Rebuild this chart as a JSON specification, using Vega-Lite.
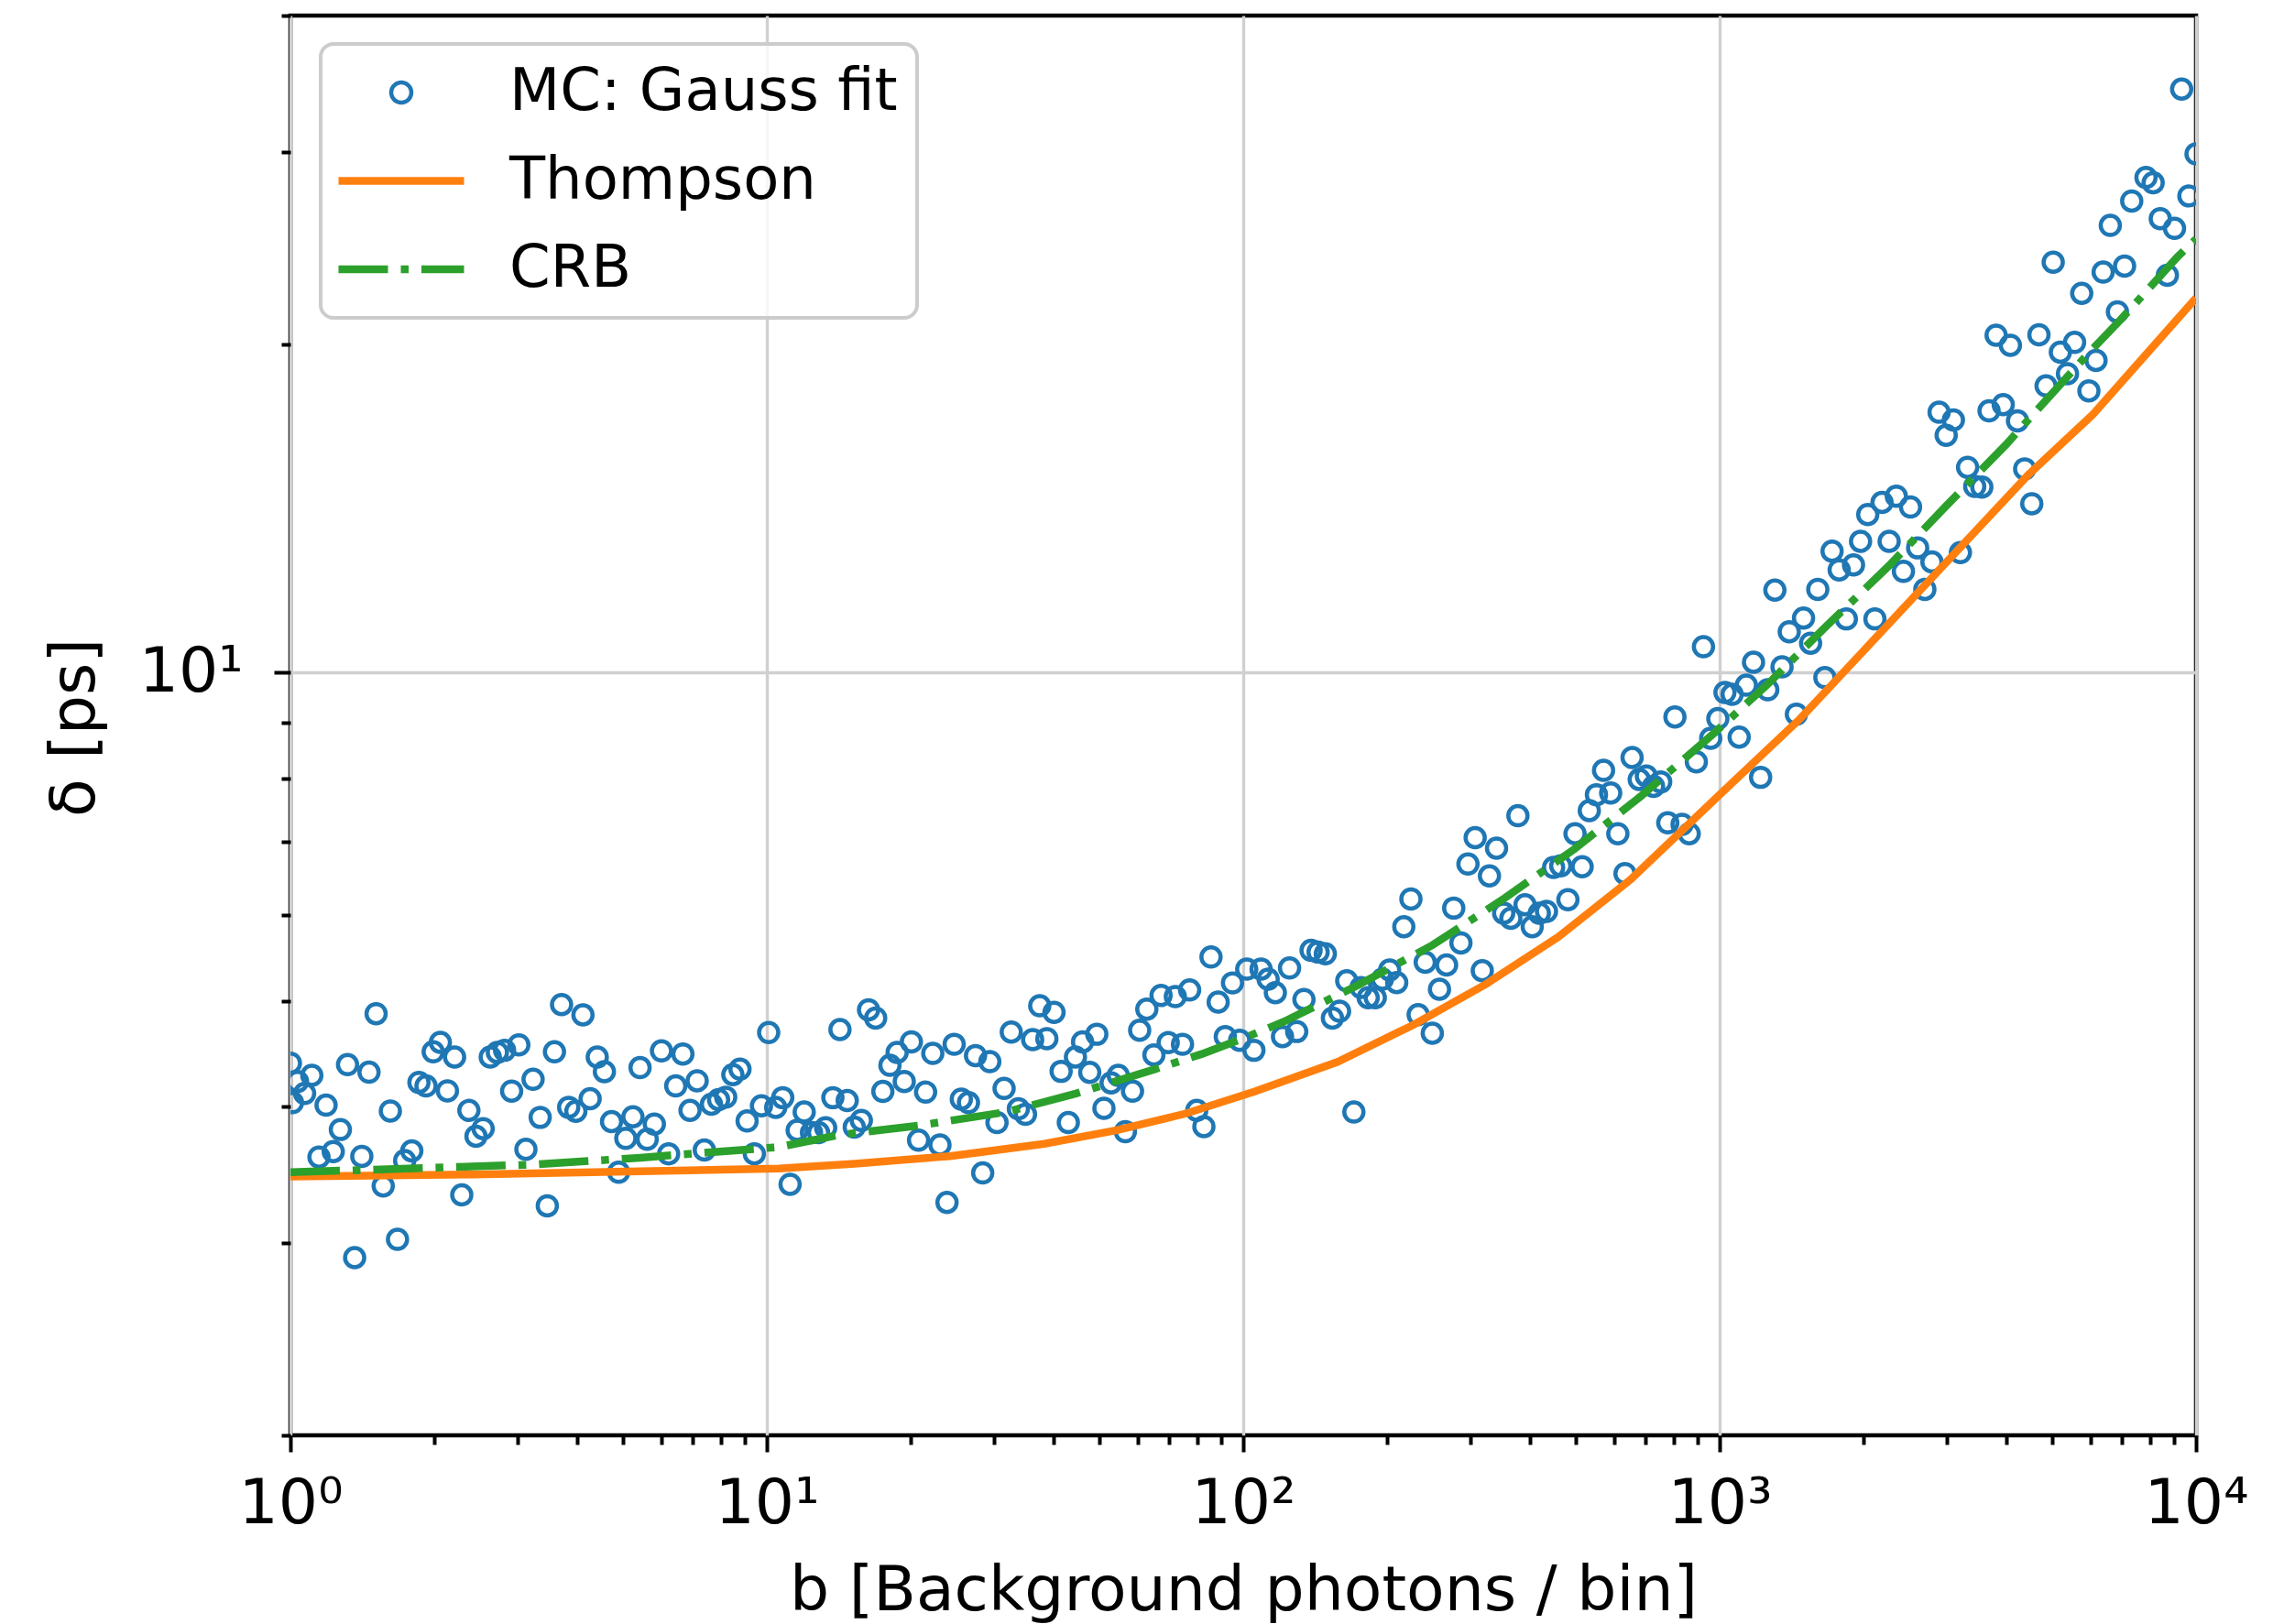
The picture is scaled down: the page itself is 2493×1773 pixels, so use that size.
{
"$schema":"https://vega.github.io/schema/vega-lite/v6.json",
"width":2080,"height":1550,
"autosize":{"type":"none"},
"padding":{"left":317,"top":17,"right":96,"bottom":206},
"background":"white",
"config":{"font":"DejaVu Sans","view":{"stroke":"black","strokeWidth":4.5}},
"datasets":{
"mc":[
{"b":1.0,"d":4.386},{"b":1.01,"d":4.035},{"b":1.035,"d":4.22},{"b":1.071,"d":4.114},{"b":1.109,"d":4.275},{"b":1.148,"d":3.598},{"b":1.188,"d":4.014},{"b":1.23,"d":3.64},{"b":1.273,"d":3.813},{"b":1.318,"d":4.372},{"b":1.364,"d":2.91},{"b":1.412,"d":3.603},{"b":1.462,"d":4.303},{"b":1.513,"d":4.869},{"b":1.566,"d":3.385},{"b":1.621,"d":3.965},{"b":1.678,"d":3.024},{"b":1.737,"d":3.571},{"b":1.798,"d":3.645},{"b":1.861,"d":4.212},{"b":1.926,"d":4.18},{"b":1.994,"d":4.492},{"b":2.064,"d":4.583},{"b":2.136,"d":4.137},{"b":2.211,"d":4.443},{"b":2.289,"d":3.322},{"b":2.369,"d":3.97},{"b":2.452,"d":3.759},{"b":2.538,"d":3.82},{"b":2.627,"d":4.443},{"b":2.719,"d":4.487},{"b":2.815,"d":4.507},{"b":2.913,"d":4.135},{"b":3.016,"d":4.559},{"b":3.121,"d":3.657},{"b":3.231,"d":4.239},{"b":3.344,"d":3.912},{"b":3.461,"d":3.246},{"b":3.583,"d":4.492},{"b":3.708,"d":4.963},{"b":3.838,"d":3.996},{"b":3.973,"d":3.963},{"b":4.112,"d":4.856},{"b":4.257,"d":4.069},{"b":4.406,"d":4.443},{"b":4.561,"d":4.308},{"b":4.721,"d":3.877},{"b":4.886,"d":3.484},{"b":5.058,"d":3.742},{"b":5.235,"d":3.917},{"b":5.419,"d":4.345},{"b":5.609,"d":3.735},{"b":5.806,"d":3.857},{"b":6.01,"d":4.501},{"b":6.221,"d":3.622},{"b":6.439,"d":4.18},{"b":6.665,"d":4.472},{"b":6.899,"d":3.97},{"b":7.141,"d":4.226},{"b":7.392,"d":3.652},{"b":7.651,"d":4.022},{"b":7.92,"d":4.061},{"b":8.198,"d":4.082},{"b":8.485,"d":4.281},{"b":8.783,"d":4.331},{"b":9.091,"d":3.882},{"b":9.414,"d":3.622},{"b":9.744,"d":4.009},{"b":10.09,"d":4.678},
{"b":10.44,"d":3.995},{"b":10.8,"d":4.078},{"b":11.19,"d":3.397},{"b":11.58,"d":3.807},{"b":11.98,"d":3.957},{"b":12.41,"d":3.788},{"b":12.84,"d":3.788},{"b":13.29,"d":3.827},{"b":13.76,"d":4.078},{"b":14.24,"d":4.708},{"b":14.75,"d":4.053},{"b":15.26,"d":3.832},{"b":15.79,"d":3.887},{"b":16.35,"d":4.909},{"b":16.92,"d":4.824},{"b":17.52,"d":4.132},{"b":18.13,"d":4.366},{"b":18.77,"d":4.486},{"b":19.43,"d":4.22},{"b":20.11,"d":4.588},{"b":20.82,"d":3.728},{"b":21.54,"d":4.126},{"b":22.3,"d":4.477},{"b":23.09,"d":3.691},{"b":23.89,"d":3.269},{"b":24.73,"d":4.564},{"b":25.6,"d":4.066},{"b":26.5,"d":4.035},{"b":27.42,"d":4.457},{"b":28.39,"d":3.479},{"b":29.38,"d":4.4},{"b":30.42,"d":3.869},{"b":31.48,"d":4.158},{"b":32.59,"d":4.683},{"b":33.73,"d":3.983},{"b":34.91,"d":3.937},{"b":36.14,"d":4.609},{"b":37.4,"d":4.95},{"b":38.71,"d":4.618},{"b":40.07,"d":4.883},{"b":41.47,"d":4.311},{"b":42.94,"d":3.869},{"b":44.44,"d":4.443},{"b":46.0,"d":4.588},{"b":47.62,"d":4.302},{"b":49.28,"d":4.662},{"b":51.01,"d":3.988},{"b":52.8,"d":4.207},{"b":54.66,"d":4.275},{"b":56.57,"d":3.795},{"b":58.56,"d":4.134},{"b":60.62,"d":4.702},{"b":62.75,"d":4.915},{"b":64.94,"d":4.463},{"b":67.22,"d":5.059},{"b":69.58,"d":4.58},{"b":72.02,"d":5.047},{"b":74.56,"d":4.564},{"b":77.17,"d":5.118},{"b":79.88,"d":3.97},{"b":82.68,"d":3.837},{"b":85.58,"d":5.487},{"b":88.59,"d":4.989},{"b":91.69,"d":4.639},{"b":94.95,"d":5.195},{"b":98.28,"d":4.603},{"b":101.7,"d":5.348},
{"b":105.3,"d":4.507},{"b":109.0,"d":5.35},{"b":112.8,"d":5.236},{"b":116.8,"d":5.089},{"b":120.9,"d":4.638},{"b":125.1,"d":5.361},{"b":129.5,"d":4.689},{"b":134.1,"d":5.017},{"b":138.8,"d":5.565},{"b":143.6,"d":5.545},{"b":148.7,"d":5.524},{"b":153.9,"d":4.824},{"b":159.3,"d":4.893},{"b":164.9,"d":5.218},{"b":170.7,"d":3.956},{"b":176.7,"d":5.145},{"b":182.9,"d":5.035},{"b":189.3,"d":5.035},{"b":195.9,"d":5.236},{"b":202.9,"d":5.339},{"b":210.0,"d":5.199},{"b":217.3,"d":5.849},{"b":224.9,"d":6.202},{"b":232.9,"d":4.858},{"b":241.0,"d":5.427},{"b":249.4,"d":4.672},{"b":258.2,"d":5.126},{"b":267.2,"d":5.396},{"b":276.6,"d":6.084},{"b":286.4,"d":5.653},{"b":296.3,"d":6.676},{"b":306.8,"d":7.058},{"b":317.5,"d":5.331},{"b":328.7,"d":6.511},{"b":340.2,"d":6.904},{"b":352.1,"d":6.019},{"b":364.5,"d":5.955},{"b":377.2,"d":7.393},{"b":390.4,"d":6.127},{"b":404.2,"d":5.849},{"b":418.3,"d":6.019},{"b":433.1,"d":6.041},{"b":448.2,"d":6.628},{"b":464.0,"d":6.652},{"b":480.3,"d":6.193},{"b":497.1,"d":7.118},{"b":514.5,"d":6.638},{"b":532.6,"d":7.473},{"b":551.3,"d":7.728},{"b":570.6,"d":8.135},{"b":590.6,"d":7.756},{"b":611.4,"d":7.118},{"b":632.9,"d":6.544},{"b":655.0,"d":8.359},{"b":678.0,"d":7.98},{"b":701.8,"d":8.038},{"b":726.5,"d":7.866},{"b":752.0,"d":7.94},{"b":778.3,"d":7.283},{"b":805.7,"d":9.107},{"b":834.0,"d":7.258},{"b":863.2,"d":7.118},{"b":893.5,"d":8.283},{"b":924.8,"d":10.56},{"b":957.7,"d":8.707},{"b":991.3,"d":9.075},{"b":1026,"d":9.587},
{"b":1062,"d":9.55},{"b":1099,"d":8.727},{"b":1138,"d":9.737},{"b":1178,"d":10.22},{"b":1219,"d":8.017},{"b":1262,"d":9.643},{"b":1306,"d":11.9},{"b":1352,"d":10.12},{"b":1400,"d":10.9},{"b":1449,"d":9.16},{"b":1500,"d":11.22},{"b":1552,"d":10.64},{"b":1607,"d":11.92},{"b":1663,"d":9.893},{"b":1722,"d":12.92},{"b":1782,"d":12.42},{"b":1845,"d":11.2},{"b":1910,"d":12.55},{"b":1976,"d":13.19},{"b":2046,"d":13.96},{"b":2118,"d":11.2},{"b":2192,"d":14.32},{"b":2269,"d":13.19},{"b":2349,"d":14.51},{"b":2431,"d":12.38},{"b":2516,"d":14.18},{"b":2604,"d":13.01},{"b":2696,"d":11.92},{"b":2790,"d":12.63},{"b":2888,"d":17.32},{"b":2989,"d":16.5},{"b":3095,"d":17.04},{"b":3202,"d":12.88},{"b":3315,"d":15.42},{"b":3431,"d":14.81},{"b":3551,"d":14.79},{"b":3677,"d":17.37},{"b":3805,"d":20.38},{"b":3938,"d":17.6},{"b":4077,"d":19.95},{"b":4219,"d":17.01},{"b":4368,"d":15.37},{"b":4521,"d":14.28},{"b":4680,"d":20.4},{"b":4844,"d":18.31},{"b":5014,"d":23.77},{"b":5190,"d":19.66},{"b":5372,"d":18.79},{"b":5560,"d":20.07},{"b":5755,"d":22.26},{"b":5958,"d":18.12},{"b":6167,"d":19.32},{"b":6383,"d":23.28},{"b":6607,"d":25.69},{"b":6839,"d":21.41},{"b":7079,"d":23.58},{"b":7328,"d":27.05},{"b":7851,"d":28.42},{"b":8127,"d":28.11},{"b":8412,"d":26.06},{"b":8706,"d":23.13},{"b":9012,"d":25.53},{"b":9328,"d":34.25},{"b":9660,"d":27.34},{"b":10000,"d":29.87}
],
"thompson":[
{"b":1,"d":3.452},{"b":2.42,"d":3.468},{"b":10.59,"d":3.511},{"b":15.3,"d":3.548},{"b":24.25,"d":3.605},{"b":38.25,"d":3.7},{"b":54.28,"d":3.807},{"b":76.0,"d":3.945},{"b":105.9,"d":4.132},{"b":157.8,"d":4.398},{"b":227.9,"d":4.756},{"b":323.3,"d":5.182},{"b":458.7,"d":5.725},{"b":650.9,"d":6.465},{"b":1000,"d":7.729},{"b":1476.5,"d":9.075},{"b":2424,"d":11.44},{"b":4446,"d":15.18},{"b":6091,"d":17.26},{"b":10000,"d":22.04}
],
"crb":[
{"b":1,"d":3.484},{"b":3.283,"d":3.542},{"b":5.428,"d":3.593},{"b":10.59,"d":3.674},{"b":14.19,"d":3.77},{"b":20.76,"d":3.844},{"b":31.85,"d":3.957},{"b":44.55,"d":4.114},{"b":65.2,"d":4.33},{"b":81.9,"d":4.472},{"b":101.3,"d":4.632},{"b":121.9,"d":4.789},{"b":173.1,"d":5.164},{"b":249.5,"d":5.626},{"b":354.4,"d":6.216},{"b":495.8,"d":6.892},{"b":682.8,"d":7.701},{"b":969.4,"d":8.786},{"b":1256,"d":9.739},{"b":1679,"d":11.04},{"b":2259,"d":12.51},{"b":2996,"d":14.23},{"b":3998,"d":16.19},{"b":4501,"d":17.15},{"b":5957,"d":19.63},{"b":6955,"d":21.07},{"b":9141,"d":24.04},{"b":10000,"d":24.96}
]
},
"encoding":{
"x":{"field":"b","type":"quantitative","scale":{"type":"log","domain":[1,10000],"nice":false},
 "axis":{"values":[1,2,3,4,5,6,7,8,9,10,20,30,40,50,60,70,80,90,100,200,300,400,500,600,700,800,900,1000,2000,3000,4000,5000,6000,7000,8000,9000,10000],
  "labelExpr":"datum.value == 1 ? '10⁰' : datum.value == 10 ? '10¹' : datum.value == 100 ? '10²' : datum.value == 1000 ? '10³' : datum.value == 10000 ? '10⁴' : ''",
  "labelOverlap":false,"labelFlush":false,"labelFontSize":68,"labelColor":"black","labelBaseline":"alphabetic","labelPadding":77,
  "domain":false,"tickColor":"black","tickWidth":4,
  "tickSize":{"condition":{"test":"datum.value == 1 || datum.value == 10 || datum.value == 100 || datum.value == 1000 || datum.value == 10000","value":18},"value":10},
  "grid":true,"gridColor":"#d0d0d0","gridWidth":3.4,
  "gridOpacity":{"condition":{"test":"datum.value == 1 || datum.value == 10 || datum.value == 100 || datum.value == 1000 || datum.value == 10000","value":1},"value":0},
  "title":"b [Background photons / bin]","titleFontSize":68,"titleFontWeight":"normal","titleColor":"black","titleX":1040,"titleY":190,"titleBaseline":"alphabetic","titleAlign":"center"}},
"y":{"field":"d","type":"quantitative","scale":{"type":"log","domain":[2,40],"nice":false},
 "axis":{"values":[2,3,4,5,6,7,8,9,10,20,30,40],
  "labelExpr":"datum.value == 10 ? '10¹' : ''",
  "labelOverlap":false,"labelFlush":false,"labelFontSize":68,"labelColor":"black","labelPadding":34,
  "domain":false,"tickColor":"black","tickWidth":4,
  "tickSize":{"condition":{"test":"datum.value == 10","value":18},"value":10},
  "grid":true,"gridColor":"#d0d0d0","gridWidth":3.4,
  "gridOpacity":{"condition":{"test":"datum.value == 10","value":1},"value":0},
  "title":"δ [ps]","titleFontSize":68,"titleFontWeight":"normal","titleColor":"black","titleAngle":270,"titleX":-215,"titleY":777,"titleBaseline":"alphabetic","titleAlign":"center"}}
},
"layer":[
{"data":{"name":"mc"},
 "mark":{"type":"point","filled":false,"size":440,"strokeWidth":4.5,"opacity":1,"clip":true},
 "encoding":{"color":{"datum":"MC: Gauss fit","type":"nominal",
  "scale":{"domain":["MC: Gauss fit","Thompson","CRB"],"range":["#1f77b4","#ff7f0e","#2ca02c"]},
  "legend":{"title":null,"orient":"none","legendX":33,"legendY":31,"padding":21,
   "fillColor":"rgba(255,255,255,0.8)","strokeColor":"#cccccc","cornerRadius":14,
   "labelFontSize":64,"labelColor":"black","labelFont":"DejaVu Sans","labelLimit":2000,"labelOffset":86,"symbolOffset":35,"rowPadding":32.5,
   "symbolType":"M-5,0H5","symbolSize":751,"symbolStrokeWidth":8.5,
   "encode":{
    "legend":{"update":{"strokeWidth":{"value":4}}},
    "symbols":{"update":{
     "shape":{"signal":"datum.value === 'MC: Gauss fit' ? 'circle' : 'M-5,0H5'"},
     "size":{"signal":"datum.value === 'MC: Gauss fit' ? 480 : 751"},
     "strokeWidth":{"signal":"datum.value === 'MC: Gauss fit' ? 4.5 : 8.5"},
     "strokeDash":{"signal":"datum.value === 'CRB' ? [54,14,8.5,14] : [1,0]"},
     "fill":{"value":"transparent"},
     "opacity":{"value":1}}}}}}}},
{"data":{"name":"thompson"},
 "mark":{"type":"line","strokeWidth":8.5,"clip":true},
 "encoding":{"color":{"datum":"Thompson","type":"nominal",
  "legend":{"title":null,"orient":"none","legendX":33,"legendY":31,"padding":21,
   "fillColor":"rgba(255,255,255,0.8)","strokeColor":"#cccccc","cornerRadius":14,
   "labelFontSize":64,"labelColor":"black","labelFont":"DejaVu Sans","labelLimit":2000,"labelOffset":86,"symbolOffset":35,"rowPadding":32.5,
   "symbolType":"M-5,0H5","symbolSize":751,"symbolStrokeWidth":8.5,
   "encode":{
    "legend":{"update":{"strokeWidth":{"value":4}}},
    "symbols":{"update":{
     "shape":{"signal":"datum.value === 'MC: Gauss fit' ? 'circle' : 'M-5,0H5'"},
     "size":{"signal":"datum.value === 'MC: Gauss fit' ? 480 : 751"},
     "strokeWidth":{"signal":"datum.value === 'MC: Gauss fit' ? 4.5 : 8.5"},
     "strokeDash":{"signal":"datum.value === 'CRB' ? [54,14,8.5,14] : [1,0]"},
     "fill":{"value":"transparent"},
     "opacity":{"value":1}}}}}}}},
{"data":{"name":"crb"},
 "mark":{"type":"line","strokeWidth":8.5,"strokeDash":[54,14,8.5,14],"strokeCap":"butt","clip":true},
 "encoding":{"color":{"datum":"CRB","type":"nominal",
  "legend":{"title":null,"orient":"none","legendX":33,"legendY":31,"padding":21,
   "fillColor":"rgba(255,255,255,0.8)","strokeColor":"#cccccc","cornerRadius":14,
   "labelFontSize":64,"labelColor":"black","labelFont":"DejaVu Sans","labelLimit":2000,"labelOffset":86,"symbolOffset":35,"rowPadding":32.5,
   "symbolType":"M-5,0H5","symbolSize":751,"symbolStrokeWidth":8.5,
   "encode":{
    "legend":{"update":{"strokeWidth":{"value":4}}},
    "symbols":{"update":{
     "shape":{"signal":"datum.value === 'MC: Gauss fit' ? 'circle' : 'M-5,0H5'"},
     "size":{"signal":"datum.value === 'MC: Gauss fit' ? 480 : 751"},
     "strokeWidth":{"signal":"datum.value === 'MC: Gauss fit' ? 4.5 : 8.5"},
     "strokeDash":{"signal":"datum.value === 'CRB' ? [54,14,8.5,14] : [1,0]"},
     "fill":{"value":"transparent"},
     "opacity":{"value":1}}}}}}}}
]
}
